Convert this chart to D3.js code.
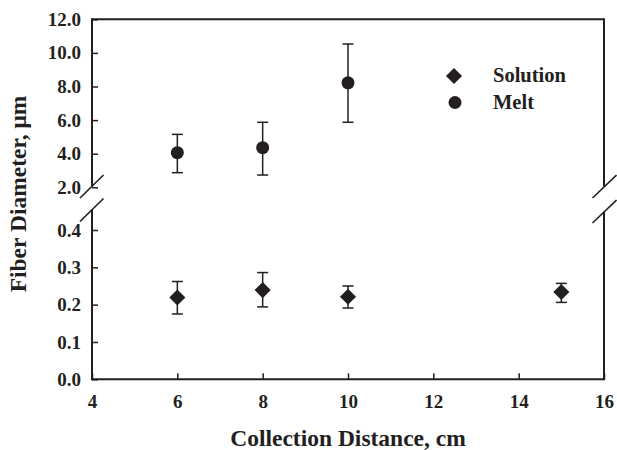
<!DOCTYPE html>
<html>
<head>
<meta charset="utf-8">
<script src="https://cdn.jsdelivr.net/npm/d3@7"></script>
<style>
html,body{margin:0;padding:0;background:#fff;}
svg{display:block;}
</style>
</head>
<body>
<svg id="chart" width="617" height="450"></svg>
<script>
// Data
const distances = [6, 8, 10, 15];
const solutionX = [6, 8, 10, 15];
const solutionMean = [0.219, 0.239, 0.221, 0.234];
const solutionLow = [0.175, 0.194, 0.191, 0.206];
const solutionHigh = [0.262, 0.286, 0.250, 0.257];
const meltX = [6, 8, 10];
const meltMean = [4.06, 4.36, 8.22];
const meltLow = [2.87, 2.73, 5.87];
const meltHigh = [5.15, 5.87, 10.53];
const xTicks = [4, 6, 8, 10, 12, 14, 16];
const yTopTicks = [2, 4, 6, 8, 10, 12];
const yBotTicks = [0, 0.1, 0.2, 0.3, 0.4];
const seriesNames = ["Solution", "Melt"];

(function () {
const ink = "#231f20";
const FONT = "'Liberation Serif'";
const svg = d3.select("#chart");
function txt(sel, size) {
  return sel.style("font-family", FONT).style("font-weight", "bold").style("font-size", size + "px").style("fill", ink);
}

const pl = 92, pr = 604, pt = 19.3, pb = 379.3;
const x = d3.scaleLinear().domain([4, 16]).range([pl, pr]);
const yTop = d3.scaleLinear().domain([2, 12]).range([187.3, pt]);
const yBot = d3.scaleLinear().domain([0, 0.4]).range([pb, 230]);

// axis lines / frame
const g = svg.append("g").attr("stroke", ink).attr("stroke-width", 2).attr("fill", "none");
g.append("line").attr("x1", pl).attr("x2", pr).attr("y1", pt).attr("y2", pt);
g.append("line").attr("x1", pl).attr("x2", pr).attr("y1", pb).attr("y2", pb);
g.append("line").attr("x1", pl).attr("x2", pl).attr("y1", pt - 1).attr("y2", 186.5);
g.append("line").attr("x1", pl).attr("x2", pl).attr("y1", 209.5).attr("y2", pb + 1);
g.append("line").attr("x1", pr).attr("x2", pr).attr("y1", pt - 1).attr("y2", 186.5);
g.append("line").attr("x1", pr).attr("x2", pr).attr("y1", 211.5).attr("y2", pb + 1);
// break slashes
const slash = svg.append("g").attr("stroke", ink).attr("stroke-width", 1.6);
[[pl, 186.5], [pl, 210]].forEach(([cx, cy]) => {
  slash.append("line").attr("x1", cx - 12).attr("y1", cy + 11.5).attr("x2", cx + 11.5).attr("y2", cy - 11.5);
});
[[pr, 186.5], [pr, 211.5]].forEach(([cx, cy]) => {
  slash.append("line").attr("x1", cx - 11.5).attr("y1", cy + 11.5).attr("x2", cx + 12.5).attr("y2", cy - 11.5);
});

function styleAxis(sel) {
  sel.select(".domain").remove();
  sel.selectAll(".tick line").attr("stroke", ink).attr("stroke-width", 1.5);
  txt(sel.selectAll(".tick text"), 19);
}

svg.append("g").attr("transform", `translate(0,${pb})`)
  .call(d3.axisBottom(x).tickValues(xTicks).tickSizeInner(-6).tickSizeOuter(0).tickPadding(15).tickFormat(d3.format("d")))
  .call(styleAxis);
svg.append("g").attr("transform", `translate(${pl},0)`)
  .call(d3.axisLeft(yTop).tickValues(yTopTicks).tickSizeInner(-6).tickSizeOuter(0).tickPadding(11).tickFormat(d3.format(".1f")))
  .call(styleAxis);
svg.append("g").attr("transform", `translate(${pl},0)`)
  .call(d3.axisLeft(yBot).tickValues(yBotTicks).tickSizeInner(-6).tickSizeOuter(0).tickPadding(11).tickFormat(d3.format(".1f")))
  .call(styleAxis);

// error bars
function errorBars(xs, lows, highs, ys) {
  const eg = svg.append("g").attr("stroke", ink).attr("stroke-width", 1.5);
  xs.forEach((d, i) => {
    const px = x(d);
    eg.append("line").attr("x1", px).attr("x2", px).attr("y1", ys(lows[i])).attr("y2", ys(highs[i]));
    eg.append("line").attr("x1", px - 5.5).attr("x2", px + 5.5).attr("y1", ys(lows[i])).attr("y2", ys(lows[i]));
    eg.append("line").attr("x1", px - 5.5).attr("x2", px + 5.5).attr("y1", ys(highs[i])).attr("y2", ys(highs[i]));
  });
}
errorBars(solutionX, solutionLow, solutionHigh, yBot);
errorBars(meltX, meltLow, meltHigh, yTop);

const diamond = d3.symbol().type(d3.symbolDiamond2).size(165);
svg.append("g").selectAll("path").data(solutionX).join("path")
  .attr("d", diamond)
  .attr("transform", (d, i) => `translate(${x(d)},${yBot(solutionMean[i])})`)
  .attr("fill", ink);
svg.append("g").selectAll("circle").data(meltX).join("circle")
  .attr("cx", d => x(d)).attr("cy", (d, i) => yTop(meltMean[i])).attr("r", 6.5)
  .attr("fill", ink);

// legend
const lg = svg.append("g");
lg.append("path").attr("d", diamond).attr("transform", "translate(454,76)").attr("fill", ink);
lg.append("circle").attr("cx", 455).attr("cy", 102.5).attr("r", 6.5).attr("fill", ink);
txt(lg.append("text").attr("x", 493).attr("y", 82), 20.5).text(seriesNames[0]);
txt(lg.append("text").attr("x", 493).attr("y", 108.5), 20.5).text(seriesNames[1]);

// titles
txt(svg.append("text").attr("x", 348).attr("y", 446).attr("text-anchor", "middle"), 23.5)
  .text("Collection Distance, cm");
txt(svg.append("text").attr("transform", "translate(26,194) rotate(-90)").attr("text-anchor", "middle"), 23.5)
  .text("Fiber Diameter, μm");
})();
</script>
</body>
</html>
